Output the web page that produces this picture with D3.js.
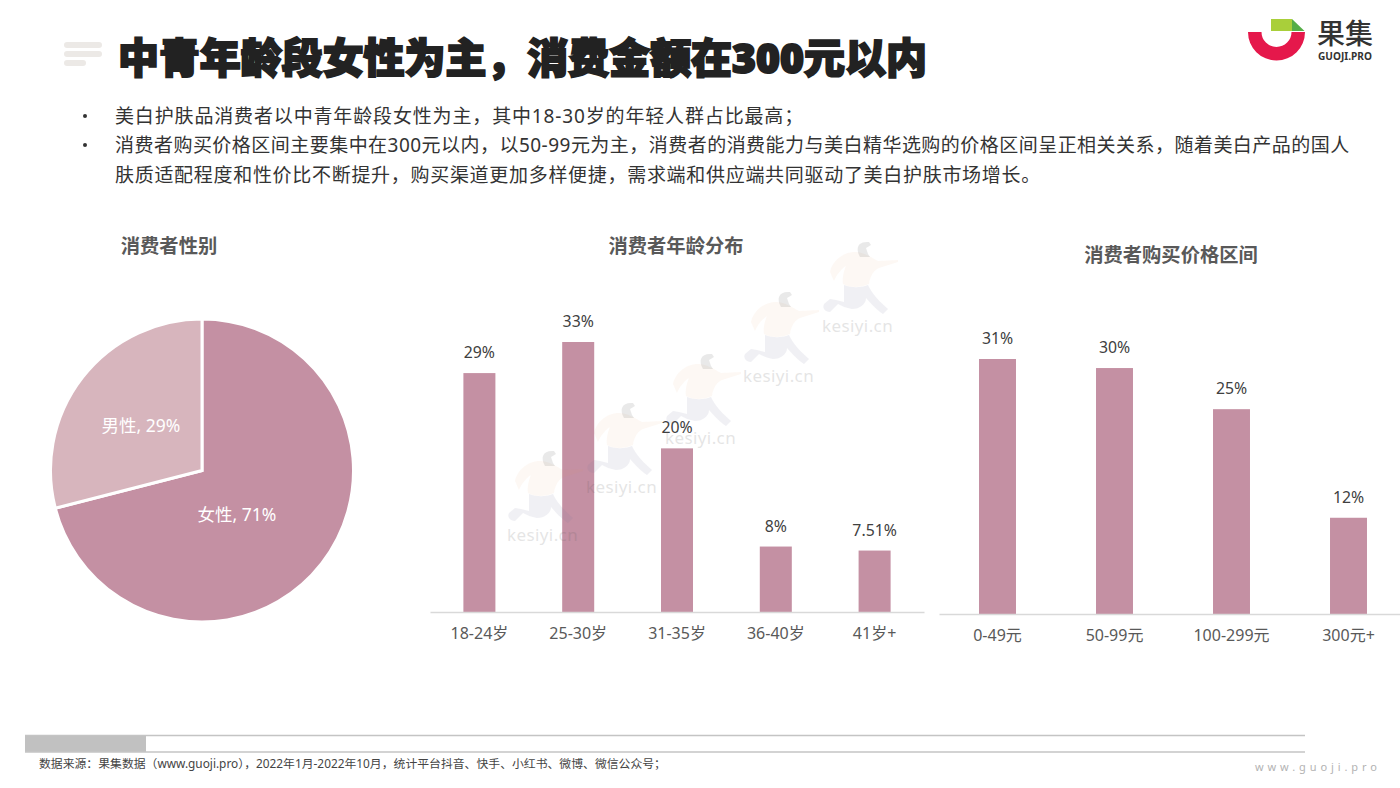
<!DOCTYPE html>
<html lang="zh-CN">
<head>
<meta charset="utf-8">
<script src="https://cdn.jsdelivr.net/npm/d3@7"></script>
<style>
html, body { margin: 0; padding: 0; background: #fff; overflow: hidden; }
svg { display: block; }
text { font-family: "Noto Sans", "Noto Sans CJK SC", sans-serif; }
</style>
</head>
<body>
<svg id="chart" width="1400" height="788"></svg>
<script>
// chart values
const genderNames = ["女性", "男性"];
const genderValues = [71, 29];

const ageNames = ["18-24岁", "25-30岁", "31-35岁", "36-40岁", "41岁+"];
const ageValues = [29.2, 33, 20, 8, 7.51];
const ageLabels = ["29%", "33%", "20%", "8%", "7.51%"];

const priceNames = ["0-49元", "50-99元", "100-299元", "300元+"];
const priceValues = [31, 29.9, 24.9, 11.7];
const priceLabels = ["31%", "30%", "25%", "12%"];

const titleText = "中青年龄段女性为主，消费金额在300元以内";
const bulletLines = [
    "美白护肤品消费者以中青年龄段女性为主，其中18-30岁的年轻人群占比最高；",
    "消费者购买价格区间主要集中在300元以内，以50-99元为主，消费者的消费能力与美白精华选购的价格区间呈正相关关系，随着美白产品的国人",
    "肤质适配程度和性价比不断提升，购买渠道更加多样便捷，需求端和供应端共同驱动了美白护肤市场增长。"
];
const sourceText = "数据来源：果集数据（www.guoji.pro），2022年1月-2022年10月，统计平台抖音、快手、小红书、微博、微信公众号；";

const barColor = "#c490a3";
const lightColor = "#d7b5bd";

const svg = d3.select("#chart");

// header
const burger = [[64, 38], [64, 38], [64, 22]];
svg.append("g").selectAll("rect").data(burger).join("rect")
    .attr("x", d => d[0])
    .attr("y", (d, i) => 42 + i * 9)
    .attr("width", d => d[1])
    .attr("height", 6)
    .attr("rx", 3)
    .attr("fill", "#ece9e6");

svg.append("text")
    .text(titleText)
    .attr("x", 118)
    .attr("y", 73)
    .attr("font-size", 40.95)
    .attr("font-weight", 900)
    .attr("fill", "#222")
    .attr("stroke", "#222")
    .attr("stroke-width", 2);

// logo
const logo = svg.append("g").attr("transform", "translate(1276.5,32)");
logo.append("path")
    .attr("d", d3.arc().innerRadius(15).outerRadius(28.5).startAngle(Math.PI / 2).endAngle(Math.PI * 1.5)())
    .attr("fill", "#e5184b");
logo.append("path").attr("d", "M-5.5,-13 H15.5 V-1 H-5.5 Z").attr("fill", "#a9cf3a");
logo.append("path").attr("d", "M15.5,-13 L28,-1 H15.5 Z").attr("fill", "#55ae47");
svg.append("text").text("果集")
    .attr("x", 1317).attr("y", 44)
    .attr("font-size", 28)
    .attr("font-weight", 500)
    .attr("fill", "#333");
svg.append("text").text("GUOJI.PRO")
    .attr("x", 1318).attr("y", 60)
    .attr("font-size", 10.1)
    .attr("font-weight", 700)
    .attr("fill", "#333");

// bullet text
const bulletY = [123, 152, 182];
const bulletSpacing = [0.85, 0.47, 0.7];
svg.append("g").selectAll("text").data(bulletLines).join("text")
    .text(d => d)
    .attr("x", 115)
    .attr("y", (d, i) => bulletY[i])
    .attr("font-size", 19)
    .attr("letter-spacing", (d, i) => bulletSpacing[i])
    .attr("fill", "#333");
svg.append("g").selectAll("circle").data([0, 1]).join("circle")
    .attr("cx", 85)
    .attr("cy", (d, i) => bulletY[i] - 7)
    .attr("r", 2)
    .attr("fill", "#333");

// chart titles
const heads = [["消费者性别", 169, 253], ["消费者年龄分布", 676, 253], ["消费者购买价格区间", 1171, 262]];
svg.append("g").selectAll("text").data(heads).join("text")
    .text(d => d[0])
    .attr("x", d => d[1])
    .attr("y", d => d[2])
    .attr("text-anchor", "middle")
    .attr("font-size", 19.3)
    .attr("font-weight", 700)
    .attr("fill", "#595959");

// pie
const pieGroup = svg.append("g").attr("transform", "translate(202,470.5)");
const pieData = d3.pie().sort(null)(genderValues);
const arc = d3.arc().innerRadius(0).outerRadius(151.5);
pieGroup.selectAll("path").data(pieData).join("path")
    .attr("d", arc)
    .attr("fill", (d, i) => i == 0 ? barColor : lightColor)
    .attr("stroke", "#fff")
    .attr("stroke-width", 3);
const pieLabelPos = [[35, 44], [-61, -45]];
pieGroup.selectAll("text").data(pieData).join("text")
    .text((d, i) => genderNames[i] + ", " + genderValues[i] + "%")
    .attr("x", (d, i) => pieLabelPos[i][0])
    .attr("y", (d, i) => pieLabelPos[i][1] + 6)
    .attr("text-anchor", "middle")
    .attr("font-size", 17.5)
    .attr("fill", "#fff");

// bars, both charts work the same way
function drawBars(names, values, labels, left, right, baseline, pxTop, maxVal, barPadding, tickPad){
    let x = d3.scaleBand().domain(names).range([left, right])
        .paddingInner(barPadding).paddingOuter(barPadding / 2);
    let y = d3.scaleLinear().domain([0, maxVal]).range([baseline, pxTop]);
    let g = svg.append("g");

    g.selectAll("rect").data(values).join("rect")
        .attr("x", (d, i) => x(names[i]))
        .attr("y", d => y(d))
        .attr("width", x.bandwidth())
        .attr("height", d => baseline - y(d))
        .attr("fill", barColor);

    g.selectAll(".val").data(values).join("text")
        .attr("class", "val")
        .text((d, i) => labels[i])
        .attr("x", (d, i) => x(names[i]) + x.bandwidth() / 2)
        .attr("y", d => y(d) - 15)
        .attr("text-anchor", "middle")
        .attr("font-size", 15.8)
        .attr("fill", "#404040");

    let axis = g.append("g")
        .attr("transform", `translate(0,${baseline})`)
        .call(d3.axisBottom(x).tickSize(0).tickPadding(tickPad));
    axis.select(".domain").attr("stroke", "#d9d9d9").attr("stroke-width", 1.5);
    axis.selectAll("text")
        .attr("font-size", 16)
        .attr("fill", "#595959")
        .style("font-family", "'Noto Sans', 'Noto Sans CJK SC', sans-serif");
}

drawBars(ageNames, ageValues, ageLabels, 430, 924, 612, 342, 33, 0.676, 16);
drawBars(priceNames, priceValues, priceLabels, 939, 1407, 614, 359, 31, 0.684, 16);

// watermark lies over the bars, faint
const stamps = [[507, 541], [586, 493], [665, 444], [743, 382], [822, 332]];
const marks = svg.append("g").selectAll("g").data(stamps).join("g")
    .attr("transform", d => `translate(${d[0]},${d[1]})`);
marks.append("path") // body
    .attr("d", "M8,-60 C10,-70 20,-80 33,-80 C42,-80 50,-74 56,-71 L76,-72 L76,-70 L57,-64 C52,-62 48,-56 47,-48 C38,-44 28,-44 21,-48 C20,-54 22,-62 24,-66 C18,-62 14,-56 12,-51 Z")
    .attr("fill", "#e0a060")
    .attr("opacity", 0.07);
marks.append("path") // head
    .attr("d", "M38,-75 C33,-84 36,-91 47,-90 L49,-87 L44,-84 L46,-78 L48,-75 Z")
    .attr("fill", "#555")
    .attr("opacity", 0.13);
marks.append("path") // legs
    .attr("d", "M22,-47 C30,-44 38,-44 46,-47 C50,-38 58,-30 66,-23 L61,-18 C52,-24 46,-32 44,-34 C44,-28 38,-23 30,-23 C24,-24 20,-26 16,-28 L8,-20 C3,-20 0,-24 2,-28 L8,-33 L14,-32 L22,-30 Z")
    .attr("fill", "#777799")
    .attr("opacity", 0.11);
marks.append("text")
    .text("kesiyi.cn")
    .attr("font-size", 17)
    .attr("letter-spacing", 0.4)
    .attr("fill", "#555")
    .attr("opacity", 0.15);

// footer
svg.append("rect").attr("x", 25).attr("y", 735).attr("width", 121).attr("height", 17).attr("fill", "#c1c1c1");
svg.append("g").selectAll("line").data([735.5, 752]).join("line")
    .attr("x1", 25).attr("x2", 1305)
    .attr("y1", d => d).attr("y2", d => d)
    .attr("stroke", "#c4c4c4")
    .attr("stroke-width", 1.5);
svg.append("text").text(sourceText)
    .attr("x", 39).attr("y", 768)
    .attr("font-size", 11.85)
    .attr("fill", "#444");
svg.append("text").text("www.guoji.pro")
    .attr("x", 1255).attr("y", 771)
    .attr("font-size", 11)
    .attr("letter-spacing", 3.9)
    .attr("fill", "#b3b3b3");
</script>
</body>
</html>
